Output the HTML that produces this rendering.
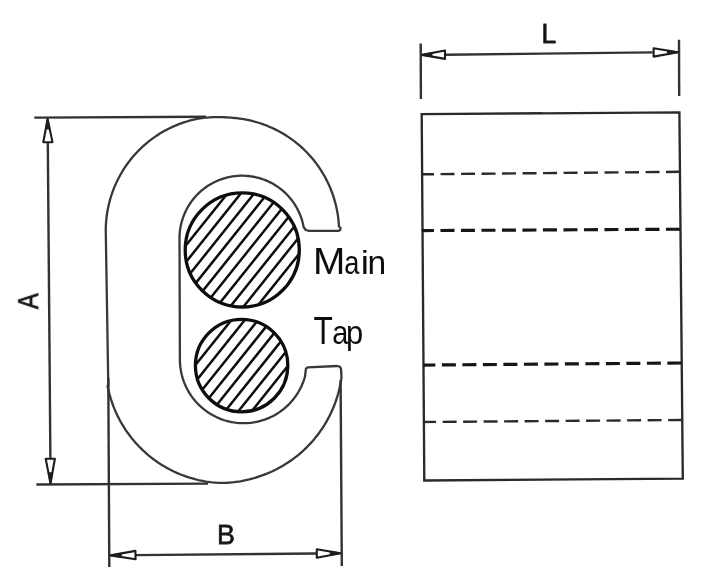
<!DOCTYPE html>
<html><head><meta charset="utf-8"><style>
html,body{margin:0;padding:0;background:#fff;}
body{width:720px;height:585px;overflow:hidden;position:relative;}
svg{position:absolute;left:0;top:0;}
.dl{stroke:#333;stroke-width:2.4;fill:none;}
.ah{stroke:#1e1e1e;stroke-width:2.1;fill:#fff;stroke-linejoin:round;}
.af{stroke:#1e1e1e;stroke-width:1.5;fill:#1e1e1e;stroke-linejoin:round;}
.co{stroke:#383838;stroke-width:2.3;fill:none;stroke-linejoin:round;}
.ci{stroke:#111;stroke-width:3.3;fill:none;}
.hl{stroke:#111;stroke-width:2.5;fill:none;}
.rc{stroke:#2a2a2a;stroke-width:2.35;fill:none;}
.dt{stroke:#2c2c2c;stroke-width:2.4;fill:none;stroke-dasharray:14 6.5;}
.dk{stroke:#151515;stroke-width:3.15;fill:none;stroke-dasharray:14 6.5;}
text{font-family:"Liberation Sans",sans-serif;fill:#111;}
</style></head><body>
<svg width="720" height="585" viewBox="0 0 720 585">
<defs>
<clipPath id="cm"><circle cx="242.25" cy="249.95" r="57.05"/></clipPath>
<clipPath id="ct"><circle cx="241.6" cy="365.6" r="46.2"/></clipPath>
<filter id="soft" x="-5%" y="-5%" width="110%" height="110%"><feGaussianBlur stdDeviation="0.55"/></filter>
</defs>
<g filter="url(#soft)">
<path d="M108.30 386.00 L105.76 230.66 L105.83 226.81 L106.02 222.96 L106.35 219.12 L106.80 215.29 L107.38 211.48 L108.10 207.69 L108.93 203.93 L109.90 200.20 L110.99 196.51 L112.21 192.85 L113.55 189.23 L115.01 185.67 L116.59 182.15 L118.28 178.69 L120.10 175.29 L122.02 171.95 L124.06 168.68 L126.21 165.48 L128.46 162.36 L130.82 159.31 L133.28 156.34 L135.84 153.46 L138.50 150.67 L141.25 147.97 L144.08 145.36 L147.01 142.85 L150.02 140.44 L153.10 138.13 L156.27 135.93 L159.50 133.84 L162.81 131.86 L166.17 129.98 L169.61 128.23 L173.09 126.59 L176.64 125.07 L180.23 123.67 L183.86 122.39 L187.54 121.24 L191.25 120.21 L195.00 119.31 L196.72 118.95 L198.45 118.62 L200.17 118.34 L201.90 118.09 L203.62 117.87 L205.34 117.69 L207.07 117.53 L208.79 117.40 L210.52 117.30 L212.24 117.22 L213.97 117.16 L215.69 117.13 L217.41 117.12 L219.14 117.12 L220.86 117.15 L222.59 117.19 L224.31 117.25 L226.03 117.33 L227.76 117.42 L229.48 117.54 L231.21 117.67 L232.93 117.82 L234.66 117.99 L236.38 118.17 L238.10 118.38 L239.83 118.61 L241.55 118.86 L243.28 119.13 L245.00 119.43 L247.56 119.93 L250.11 120.48 L252.64 121.09 L255.16 121.75 L257.66 122.48 L260.15 123.26 L262.61 124.09 L265.06 124.99 L267.49 125.94 L269.89 126.94 L272.28 128.00 L274.63 129.11 L276.96 130.28 L279.27 131.49 L281.54 132.76 L283.79 134.08 L286.00 135.46 L288.19 136.88 L290.34 138.35 L292.45 139.87 L294.53 141.44 L296.58 143.05 L298.59 144.72 L300.56 146.42 L302.49 148.17 L304.38 149.97 L306.22 151.80 L308.03 153.68 L309.79 155.60 L311.51 157.56 L313.19 159.56 L314.81 161.59 L316.40 163.66 L317.93 165.77 L319.41 167.91 L320.85 170.08 L322.24 172.29 L323.57 174.53 L324.86 176.79 L326.09 179.09 L327.27 181.41 L328.40 183.76 L329.47 186.14 L330.49 188.54 L331.45 190.96 L332.36 193.40 L333.21 195.86 L334.01 198.34 L334.75 200.84 L335.43 203.36 L336.06 205.89 L336.63 208.43 L337.14 210.98 L337.59 213.55 L337.98 216.13 L338.31 218.71 L338.59 221.30 L338.81 223.90 L338.96 226.50 L340.60 228.00 L340.20 230.00 L338.60 230.80 L309.00 230.80 L305.80 230.00 L303.60 227.00 L302.57 222.10 L301.84 219.59 L301.01 217.11 L300.07 214.67 L299.03 212.28 L297.90 209.92 L296.67 207.62 L295.34 205.37 L293.92 203.18 L292.41 201.05 L290.81 198.98 L289.13 196.98 L287.36 195.05 L285.52 193.20 L283.60 191.43 L281.61 189.74 L279.55 188.13 L277.42 186.62 L275.23 185.19 L272.99 183.85 L270.69 182.61 L268.34 181.47 L265.95 180.42 L263.51 179.48 L261.04 178.63 L258.53 177.89 L256.00 177.26 L253.44 176.74 L250.86 176.32 L248.27 176.00 L245.66 175.80 L243.05 175.71 L240.44 175.72 L237.83 175.85 L235.23 176.08 L232.64 176.42 L230.06 176.87 L227.51 177.42 L224.98 178.09 L222.48 178.85 L220.02 179.72 L217.60 180.69 L215.21 181.77 L212.88 182.94 L210.59 184.21 L208.36 185.57 L206.19 187.02 L204.09 188.56 L202.04 190.19 L200.07 191.91 L198.17 193.70 L196.35 195.57 L194.61 197.52 L192.95 199.54 L191.37 201.62 L189.89 203.77 L188.49 205.98 L187.19 208.24 L185.98 210.56 L184.87 212.93 L183.86 215.33 L182.96 217.78 L182.15 220.27 L181.45 222.79 L180.86 225.33 L180.37 227.90 L179.99 230.48 L179.72 233.08 L179.55 235.69 L179.50 238.30 L179.90 359.50 L179.96 362.16 L180.12 364.81 L180.40 367.45 L180.79 370.09 L181.28 372.70 L181.89 375.29 L182.60 377.85 L183.42 380.38 L184.34 382.87 L185.37 385.32 L186.50 387.73 L187.72 390.09 L189.05 392.39 L190.47 394.64 L191.98 396.82 L193.58 398.95 L195.27 401.00 L197.05 402.98 L198.90 404.88 L200.83 406.71 L202.84 408.45 L204.92 410.11 L207.06 411.68 L209.27 413.16 L211.54 414.54 L213.87 415.83 L216.24 417.03 L218.67 418.12 L221.13 419.11 L223.64 419.99 L226.18 420.77 L228.75 421.45 L231.35 422.01 L233.97 422.47 L236.61 422.81 L239.25 423.05 L241.91 423.18 L244.57 423.19 L247.22 423.10 L249.87 422.89 L252.51 422.57 L255.14 422.15 L257.74 421.61 L260.32 420.97 L262.87 420.22 L265.39 419.36 L267.87 418.40 L270.30 417.33 L272.69 416.17 L275.03 414.91 L277.31 413.55 L279.54 412.09 L281.70 410.55 L283.80 408.91 L285.83 407.19 L287.78 405.39 L289.66 403.51 L291.45 401.55 L293.16 399.51 L294.79 397.41 L296.33 395.24 L297.77 393.01 L299.12 390.72 L300.38 388.38 L301.53 385.98 L302.59 383.54 L303.54 381.06 L304.39 378.54 L305.13 375.99 L305.50 372.00 L306.00 368.60 L307.60 367.30 L337.00 366.00 L339.80 366.60 L341.00 368.80 L341.20 372.00 L341.51 377.31 L341.18 379.61 L340.80 381.91 L340.38 384.20 L339.92 386.48 L339.41 388.75 L338.86 391.01 L338.27 393.26 L337.63 395.50 L336.95 397.73 L336.22 399.94 L335.46 402.14 L334.65 404.32 L333.80 406.49 L332.91 408.64 L331.98 410.77 L331.01 412.89 L330.00 414.98 L328.95 417.06 L327.85 419.11 L326.72 421.15 L325.55 423.16 L324.35 425.15 L323.10 427.12 L321.82 429.06 L320.50 430.97 L319.14 432.87 L317.75 434.73 L316.32 436.57 L314.86 438.38 L313.36 440.16 L311.83 441.91 L310.26 443.64 L308.67 445.33 L307.04 446.99 L305.38 448.62 L303.68 450.22 L301.96 451.79 L300.21 453.32 L298.43 454.82 L296.62 456.28 L294.78 457.71 L292.92 459.10 L291.03 460.46 L289.11 461.78 L287.17 463.07 L285.20 464.31 L283.22 465.52 L281.20 466.69 L279.17 467.82 L277.12 468.92 L275.04 469.97 L272.94 470.98 L270.83 471.96 L268.70 472.89 L266.55 473.78 L264.38 474.63 L262.20 475.44 L260.00 476.20 L257.83 476.92 L255.67 477.60 L253.50 478.24 L251.33 478.85 L249.17 479.42 L247.00 479.94 L244.83 480.43 L242.67 480.87 L240.50 481.28 L238.33 481.64 L236.17 481.95 L234.00 482.22 L231.83 482.44 L229.67 482.62 L227.50 482.76 L225.33 482.84 L223.17 482.88 L221.00 482.87 L218.83 482.82 L216.67 482.72 L214.50 482.57 L212.33 482.38 L210.17 482.14 L208.00 481.85 L205.83 481.52 L203.67 481.14 L201.50 480.72 L199.33 480.26 L197.17 479.75 L195.00 479.21 L192.35 478.48 L189.71 477.70 L187.09 476.85 L184.50 475.94 L181.92 474.98 L179.37 473.95 L176.84 472.87 L174.34 471.73 L171.86 470.53 L169.42 469.28 L167.00 467.97 L164.61 466.61 L162.25 465.19 L159.93 463.71 L157.64 462.19 L155.39 460.61 L153.17 458.98 L151.00 457.30 L148.86 455.57 L146.76 453.79 L144.70 451.97 L142.69 450.10 L140.72 448.18 L138.79 446.22 L136.91 444.21 L135.07 442.16 L133.29 440.07 L131.55 437.94 L129.86 435.77 L128.22 433.56 L126.63 431.32 L125.09 429.04 L123.61 426.72 L122.18 424.37 L120.80 421.99 L119.48 419.58 L118.22 417.14 L117.01 414.67 L115.86 412.17 L114.76 409.64 L113.72 407.10 L112.75 404.53 L111.83 401.93 L110.97 399.32 L110.17 396.69 L109.43 394.04 L108.76 391.37 L108.14 388.69 L107.59 386.00 Z" class="co"/>
<g clip-path="url(#cm)"><path d="M167.57 268.39 L243.84 173.04 M175.69 274.88 L251.96 179.54 M183.81 281.38 L260.09 186.04 M191.93 287.88 L268.21 192.53 M200.05 294.37 L276.33 199.03 M208.17 300.87 L284.45 205.53 M216.29 307.37 L292.57 212.02 M224.41 313.86 L300.69 218.52 M232.54 320.36 L308.81 225.02 M240.66 326.86 L316.93 231.51" class="hl"/></g>
<g clip-path="url(#ct)"><path d="M181.82 382.06 L244.54 303.66 M189.94 388.56 L252.66 310.16 M198.06 395.05 L260.78 316.66 M206.18 401.55 L268.90 323.15 M214.30 408.05 L277.02 329.65 M222.42 414.54 L285.14 336.15 M230.54 421.04 L293.26 342.64 M238.66 427.54 L301.38 349.14" class="hl"/></g>
<circle cx="242.25" cy="249.95" r="57.05" class="ci"/>
<circle cx="241.6" cy="365.6" r="46.2" class="ci"/>
<path d="M34.3 117.6 L206 116.8" class="dl"/>
<path d="M36.4 484.5 L208 483.6" class="dl"/>
<path d="M47.8 142 L50.4 459" class="dl"/>
<path d="M47.6 119.0 L43.3 142.3 L52.5 142.1 Z" class="ah"/><path class="af" d="M47.6 119.0 L45.8 128.8 L49.7 128.7 Z" class="ah"/>
<path d="M50.5 483.3 L54.9 458.7 L45.7 458.7 Z" class="ah"/><path class="af" d="M50.5 483.3 L52.3 473.0 L48.5 473.0 Z" class="ah"/>
<path d="M108.3 378 L109.3 567" class="dl"/>
<path d="M340.6 380 L341.8 566" class="dl"/>
<path d="M135.5 555.1 L316.8 553.5" class="dl"/>
<path d="M110.5 555.4 L135.6 559.3 L135.4 550.9 Z" class="ah"/><path class="af" d="M110.5 555.4 L121.0 557.0 L121.0 553.5 Z" class="ah"/>
<path d="M340.5 553.3 L316.8 549.3 L316.8 557.7 Z" class="ah"/><path class="af" d="M340.5 553.3 L330.5 551.6 L330.6 555.1 Z" class="ah"/>
<path d="M420.7 43.5 L420.9 99" class="dl"/>
<path d="M679 39.7 L679.2 96" class="dl"/>
<path d="M446 54.7 L652.6 52.4" class="dl"/>
<path d="M422.0 54.9 L445.0 58.9 L445.0 50.5 Z" class="ah"/><path class="af" d="M422.0 54.9 L431.7 56.6 L431.6 53.1 Z" class="ah"/>
<path d="M678.0 52.2 L653.6 48.2 L653.6 56.6 Z" class="ah"/><path class="af" d="M678.0 52.2 L667.7 50.5 L667.8 54.0 Z" class="ah"/>
<path d="M421.7 114.1 L679.4 112.4 L682.8 478.6 L424.3 480.5 Z" class="rc"/>
<path d="M421.7 174.3 L679.6 171.8" class="dt" stroke-dasharray="14.30 6.15" stroke-dashoffset="1.65"/>
<path d="M421.9 230.6 L680.0 229.2" class="dk" stroke-dasharray="14.60 5.85" stroke-dashoffset="1.95"/>
<path d="M423.3 365.1 L681.5 363.0" class="dk" stroke-dasharray="14.60 5.90" stroke-dashoffset="1.90"/>
<path d="M423.6 422.0 L681.8 420.0" class="dt" stroke-dasharray="14.60 5.90" stroke-dashoffset="1.50"/>
<g font-size="37">
<text transform="translate(313.0,273.8) scale(1.048,1)">M</text>
<text transform="translate(344.25,273.8) scale(0.735,0.92)">a</text>
<text transform="translate(360.84,273.8) scale(1,0.92)">i</text>
<text transform="translate(367.45,273.8) scale(0.908,0.92)">n</text>
<text transform="translate(313.54,343.9) scale(0.856,1.03)">T</text>
<text transform="translate(332.37,343.9) scale(0.782,0.9)">a</text>
<text transform="translate(346.06,343.9) scale(0.837,0.9)">p</text>
</g>
<g stroke="#262626" fill="#262626" stroke-width="0.75" stroke-linejoin="round">
<text font-size="29.3" transform="translate(38.2,309.1) rotate(-90) scale(0.816,1)">A</text>
<text font-size="28.3" transform="translate(216.9,543.6) scale(0.95,1)">B</text>
<text font-size="28.15" transform="translate(541.4,43.3) scale(0.941,1)">L</text>
</g>
</g>
</svg>
</body></html>
